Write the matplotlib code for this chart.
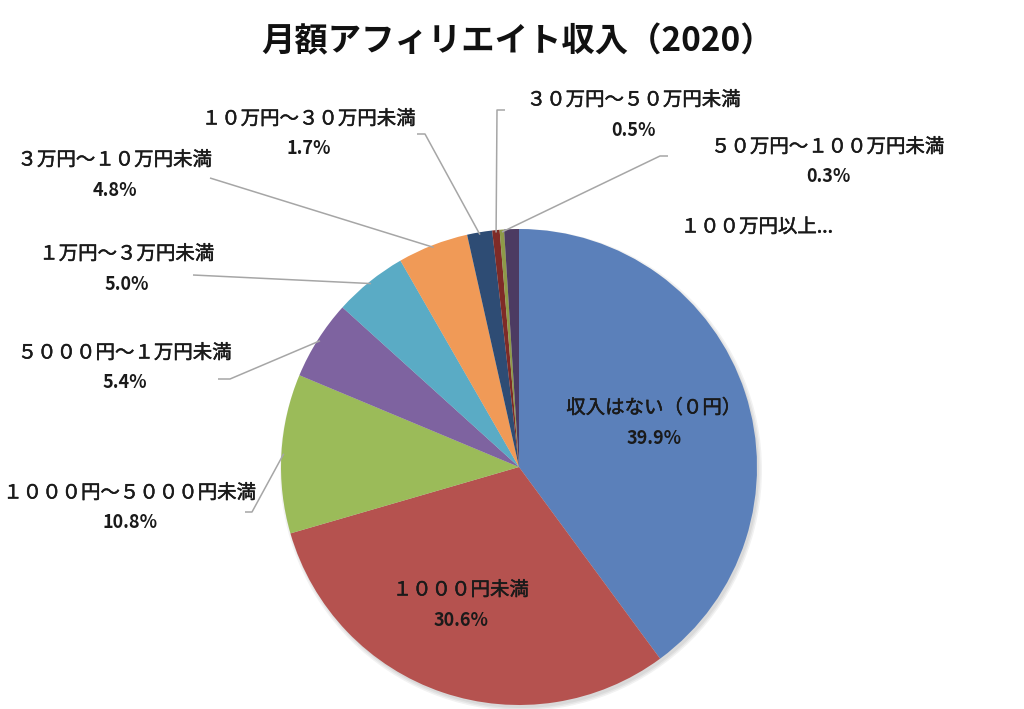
import matplotlib
matplotlib.use("Agg")
import matplotlib.pyplot as plt
import matplotlib.patheffects as pe
import numpy as np

plt.rcParams['font.family'] = ['Noto Sans CJK JP', 'DejaVu Sans']

title = "月額アフィリエイト収入（2020）"
categories = ["収入はない（０円）", "１０００円未満", "１０００円～５０００円未満",
              "５０００円～１万円未満", "１万円～３万円未満", "３万円～１０万円未満",
              "１０万円～３０万円未満", "３０万円～５０万円未満", "５０万円～１００万円未満",
              "１００万円以上..."]
values = [39.9, 30.6, 10.8, 5.4, 5.0, 4.8, 1.7, 0.5, 0.3, 1.0]
pct_labels = ["39.9%", "30.6%", "10.8%", "5.4%", "5.0%", "4.8%", "1.7%", "0.5%", "0.3%", ""]
colors = ["#5B80BA", "#B5524F", "#9BBB59", "#7E63A0", "#5AABC5", "#F09A57",
          "#2E4C74", "#7F2B27", "#8E9A48", "#4C3B62"]

W, H = 1024, 709
fig = plt.figure(figsize=(W / 100, H / 100), dpi=100)
ax = fig.add_axes([0, 0, 1, 1])

def Y(y):
    return H - y

cx, cy, R = 519, 467, 238
# soft shadow
for i, a in enumerate([0.05, 0.05, 0.05]):
    ax.add_patch(plt.Circle((cx + 2, Y(cy) - 3), R + 3 - i * 1.5, color="black", alpha=a, lw=0))

wedges, _ = ax.pie(values, colors=colors, startangle=90, counterclock=False,
                   radius=R, center=(cx, Y(cy)), wedgeprops=dict(linewidth=0))
ax.set_xlim(0, W)
ax.set_ylim(0, H)
ax.set_aspect('equal')
ax.axis('off')

# label layout (pixel positions of label centre, elbow points)
label_pos = [(654, 408), (461, 590), (130, 493), (125, 353), (127, 254), (115, 160),
             (309, 119), (634, 100), (828, 147), (757, 227)]
pct_dy = 30
elbows = {2: [(245, 512), (252, 512)],
          3: [(218, 379), (230, 379)],
          4: [(193, 275)],
          5: [(210, 178)],
          6: [(417, 134), (425, 134)],
          7: [(505, 110), (497, 110)],
          8: [(668, 156), (660, 156)]}

fs = 14
txt_col = '#1a1a1a'
thick = [pe.withStroke(linewidth=0.35, foreground=txt_col)]
for i, (lab, pct) in enumerate(zip(categories, pct_labels)):
    x, y = label_pos[i]
    ax.text(x, Y(y), lab, ha='center', va='center', fontsize=fs,
            color=txt_col, path_effects=thick)
    if pct:
        ax.text(x, Y(y + pct_dy), pct, ha='center', va='center', fontsize=fs - 1,
                fontweight='bold', color=txt_col)
    if i in elbows:
        w = wedges[i]
        mid = np.deg2rad((w.theta1 + w.theta2) / 2)
        ex = cx + R * 0.99 * np.cos(mid)
        ey = Y(cy) + R * 0.99 * np.sin(mid)
        pts = [(px, Y(py)) for px, py in elbows[i]] + [(ex, ey)]
        xs, ys = zip(*pts)
        ax.plot(xs, ys, color='#a6a6a6', lw=1.1, solid_capstyle='butt')

ax.text(518, Y(42), title, ha='center', va='center', fontsize=24, fontweight='bold',
        color='#111111')

fig.savefig("out.png", dpi=100, facecolor='white')
